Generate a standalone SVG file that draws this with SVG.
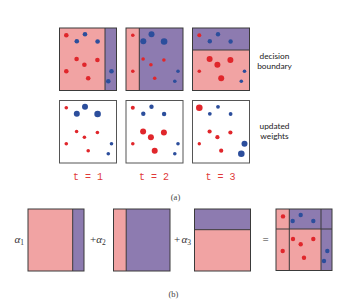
<svg xmlns="http://www.w3.org/2000/svg" width="363" height="307" viewBox="0 0 363 307">
<style>
.pk{fill:#f1a3a3}
.pu{fill:#8d7bb0}
.fr{fill:none;stroke:#3a3a3a;stroke-width:1}
.ln{stroke:#3a3a3a;stroke-width:1}
.wf{fill:#fff;stroke:#555;stroke-width:1}
.r{fill:#e0262b}
.b{fill:#2c4e9c}
.lab{font-family:Lato,"Open Sans",sans-serif;font-size:8.3px;fill:#222;text-anchor:middle}
.t{font-family:"Liberation Mono",monospace;font-size:10px;fill:#e03a3a;text-anchor:middle}
.cap{font-family:"Liberation Serif",serif;font-size:8.5px;fill:#444;text-anchor:middle}
.m{font-family:"Liberation Serif",serif;font-size:11px;fill:#333}
.mi{font-style:italic}
</style>
<rect width="363" height="307" fill="#fff"/>

<!-- row 1: decision boundaries -->
<g id="top1" transform="translate(59.5,28)">
<rect class="pk" width="57" height="62.5"/>
<rect class="pu" x="45.5" width="11.5" height="62.5"/>
<line class="ln" x1="45.5" y1="0" x2="45.5" y2="62.5"/>
<rect class="fr" width="57" height="62.5"/>
<circle class="r" cx="6.8" cy="7.3" r="2.3"/>
<circle class="b" cx="25.5" cy="6.3" r="2.3"/>
<circle class="b" cx="17.3" cy="13.3" r="2.3"/>
<circle class="b" cx="38.1" cy="13.5" r="2.3"/>
<circle class="r" cx="17.1" cy="31" r="2.3"/>
<circle class="r" cx="24.9" cy="36.7" r="2.3"/>
<circle class="r" cx="37.9" cy="32" r="2.3"/>
<circle class="r" cx="6.8" cy="43.2" r="2.3"/>
<circle class="r" cx="28.7" cy="50.2" r="2.3"/>
<circle class="b" cx="52" cy="43.3" r="2.3"/>
<circle class="b" cx="48.8" cy="53.3" r="2.3"/>
</g>
<g id="top2" transform="translate(126,28)">
<rect class="pk" width="57" height="62.5"/>
<rect class="pu" x="13.3" width="43.7" height="62.5"/>
<line class="ln" x1="13.3" y1="0" x2="13.3" y2="62.5"/>
<rect class="fr" width="57" height="62.5"/>
<circle class="r" cx="6.8" cy="7.3" r="1.8"/>
<circle class="b" cx="25.5" cy="6.3" r="3"/>
<circle class="b" cx="17.3" cy="13.3" r="3"/>
<circle class="b" cx="38.1" cy="13.5" r="3.3"/>
<circle class="r" cx="17.1" cy="31" r="1.8"/>
<circle class="r" cx="24.9" cy="36.7" r="1.8"/>
<circle class="r" cx="37.9" cy="32" r="1.8"/>
<circle class="r" cx="6.8" cy="43.2" r="1.8"/>
<circle class="r" cx="28.7" cy="50.2" r="1.8"/>
<circle class="b" cx="52" cy="43.3" r="1.8"/>
<circle class="b" cx="48.8" cy="53.3" r="1.8"/>
</g>
<g id="top3" transform="translate(192.5,28)">
<rect class="pk" width="57" height="62.5"/>
<rect class="pu" width="57" height="22"/>
<line class="ln" x1="0" y1="22" x2="57" y2="22"/>
<rect class="fr" width="57" height="62.5"/>
<circle class="r" cx="6.8" cy="7.3" r="2"/>
<circle class="b" cx="25.5" cy="6.3" r="2.2"/>
<circle class="b" cx="17.3" cy="13.3" r="2.2"/>
<circle class="b" cx="38.1" cy="13.5" r="2.2"/>
<circle class="r" cx="17.1" cy="31" r="3"/>
<circle class="r" cx="24.9" cy="36.7" r="3"/>
<circle class="r" cx="37.9" cy="32" r="3"/>
<circle class="r" cx="6.8" cy="43.2" r="1.8"/>
<circle class="r" cx="28.7" cy="50.2" r="3"/>
<circle class="b" cx="52" cy="43.3" r="1.8"/>
<circle class="b" cx="48.8" cy="53.3" r="1.8"/>
</g>

<!-- row 2: updated weights -->
<g id="w1" transform="translate(59.5,100.5)">
<rect class="wf" width="57" height="62.5"/>
<circle class="r" cx="6.8" cy="7.3" r="1.8"/>
<circle class="b" cx="25.5" cy="6.3" r="3"/>
<circle class="b" cx="17.3" cy="13.3" r="3"/>
<circle class="b" cx="38.1" cy="13.5" r="3.3"/>
<circle class="r" cx="17.1" cy="31" r="1.8"/>
<circle class="r" cx="24.9" cy="36.7" r="1.8"/>
<circle class="r" cx="37.9" cy="32" r="1.8"/>
<circle class="r" cx="6.8" cy="43.2" r="1.8"/>
<circle class="r" cx="28.7" cy="50.2" r="1.8"/>
<circle class="b" cx="52" cy="43.3" r="1.8"/>
<circle class="b" cx="48.8" cy="53.3" r="1.8"/>
</g>
<g id="w2" transform="translate(126,100.5)">
<rect class="wf" width="57" height="62.5"/>
<circle class="r" cx="6.8" cy="7.3" r="2"/>
<circle class="b" cx="25.5" cy="6.3" r="2.2"/>
<circle class="b" cx="17.3" cy="13.3" r="2.2"/>
<circle class="b" cx="38.1" cy="13.5" r="2.2"/>
<circle class="r" cx="17.1" cy="31" r="3"/>
<circle class="r" cx="24.9" cy="36.7" r="3"/>
<circle class="r" cx="37.9" cy="32" r="3"/>
<circle class="r" cx="6.8" cy="43.2" r="1.8"/>
<circle class="r" cx="28.7" cy="50.2" r="3"/>
<circle class="b" cx="52" cy="43.3" r="1.8"/>
<circle class="b" cx="48.8" cy="53.3" r="1.8"/>
</g>
<g id="w3" transform="translate(192.5,100.5)">
<rect class="wf" width="57" height="62.5"/>
<circle class="r" cx="6.8" cy="7.3" r="3.3"/>
<circle class="b" cx="25.5" cy="6.3" r="1.9"/>
<circle class="b" cx="17.3" cy="13.3" r="1.9"/>
<circle class="b" cx="38.1" cy="13.5" r="1.9"/>
<circle class="r" cx="17.1" cy="31" r="2.1"/>
<circle class="r" cx="24.9" cy="36.7" r="2.1"/>
<circle class="r" cx="37.9" cy="32" r="2.1"/>
<circle class="r" cx="6.8" cy="43.2" r="1.7"/>
<circle class="r" cx="28.7" cy="50.2" r="2.1"/>
<circle class="b" cx="52" cy="43.3" r="3"/>
<circle class="b" cx="48.8" cy="53.3" r="3.3"/>
</g>

<g id="labels-a">
<text class="lab" x="274.5" y="59">decision</text>
<text class="lab" x="274.5" y="69">boundary</text>
<text class="lab" x="274.5" y="129">updated</text>
<text class="lab" x="274.5" y="139">weights</text>
<text class="t" x="88" y="179.5">t = 1</text>
<text class="t" x="154" y="179.5">t = 2</text>
<text class="t" x="220.5" y="179.5">t = 3</text>
<text class="cap" x="175.5" y="200">(a)</text>
</g>

<!-- (b) row -->
<g id="b1" transform="translate(28,209)">
<rect class="pk" width="56" height="62"/>
<rect class="pu" x="44.7" width="11.3" height="62"/>
<line class="ln" x1="44.7" y1="0" x2="44.7" y2="62"/>
<rect class="fr" width="56" height="62"/>
</g>
<g id="b2" transform="translate(113.5,209)">
<rect class="pk" width="56.5" height="62"/>
<rect class="pu" x="12.7" width="43.8" height="62"/>
<line class="ln" x1="12.7" y1="0" x2="12.7" y2="62"/>
<rect class="fr" width="56.5" height="62"/>
</g>
<g id="b3" transform="translate(194.5,209)">
<rect class="pk" width="56" height="62"/>
<rect class="pu" width="56" height="20.7"/>
<line class="ln" x1="0" y1="20.7" x2="56" y2="20.7"/>
<rect class="fr" width="56" height="62"/>
</g>
<g id="final" transform="translate(276,209)">
<rect class="pk" width="56" height="61.5"/>
<rect class="pu" x="13.3" width="31.7" height="20"/>
<rect class="pu" x="45" width="11" height="61.5"/>
<line class="ln" x1="13.3" y1="0" x2="13.3" y2="61.5"/>
<line class="ln" x1="45" y1="0" x2="45" y2="61.5"/>
<line class="ln" x1="0" y1="20" x2="56" y2="20"/>
<rect class="fr" width="56" height="61.5"/>
<circle class="r" cx="7" cy="7.4" r="2.2"/>
<circle class="b" cx="24.7" cy="6" r="2.2"/>
<circle class="b" cx="16.7" cy="12" r="2.2"/>
<circle class="b" cx="37.3" cy="12" r="2.2"/>
<circle class="r" cx="17" cy="30" r="2.2"/>
<circle class="r" cx="24.7" cy="35.3" r="2.2"/>
<circle class="r" cx="37.3" cy="30" r="2.2"/>
<circle class="r" cx="6.7" cy="42" r="2.2"/>
<circle class="r" cx="28" cy="48.7" r="2.2"/>
<circle class="b" cx="51.3" cy="42" r="2.2"/>
<circle class="b" cx="48" cy="52" r="2.2"/>
</g>

<g id="labels-b">
<text class="m" x="14.5" y="243"><tspan class="mi">α</tspan><tspan font-size="7.5" dy="2">1</tspan></text>
<text class="m" x="90" y="243">+<tspan class="mi">α</tspan><tspan font-size="7.5" dy="2">2</tspan></text>
<text class="m" x="174" y="243">+</text>
<text class="m" x="181.5" y="243"><tspan class="mi">α</tspan><tspan font-size="7.5" dy="2">3</tspan></text>
<text class="m" x="262.5" y="243" fill="#777">=</text>
<text class="cap" x="173.5" y="297">(b)</text>
</g>
</svg>
